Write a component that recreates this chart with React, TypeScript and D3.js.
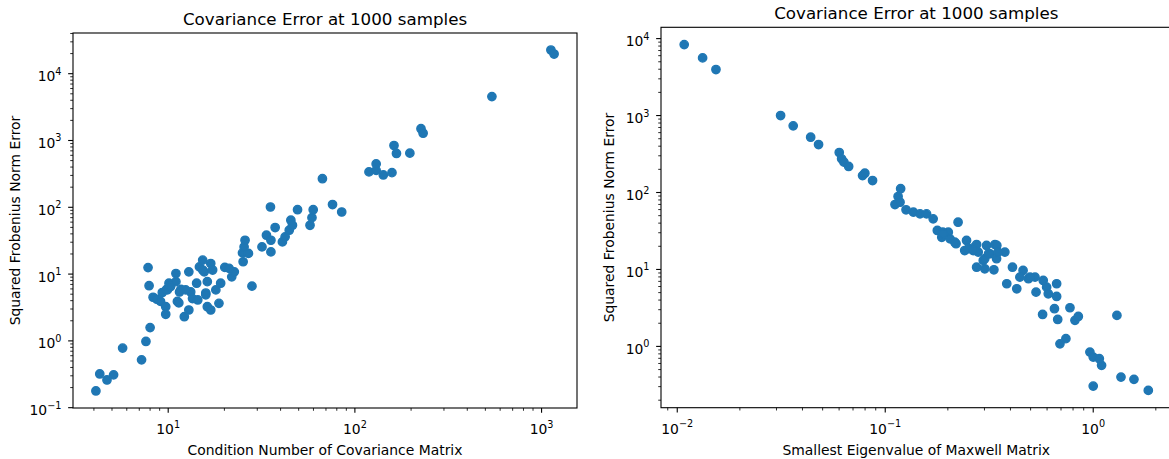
import React from 'react';
import * as d3 from 'd3';

// Left panel: condition number vs squared Frobenius error
const condNumber = [4.1, 4.3, 4.7, 5.1, 5.7, 7.2, 7.6, 8.0, 7.8, 7.9, 8.3, 8.7, 9.1, 9.3, 9.8, 10.1, 11.0, 11.0, 11.2, 9.7, 9.7, 12.2, 12.9, 11.7, 12.9, 13.2, 13.5, 14.2, 14.4, 14.7, 15.3, 15.6, 16.2, 16.9, 17.3, 15.9, 16.2, 16.9, 18.0, 18.7, 19.1, 20.1, 21.9, 22.6, 25.0, 25.2, 25.5, 25.8, 26.9, 28.1, 31.8, 33.6, 35.5, 35.5, 35.3, 37.4, 40.9, 42.3, 44.5, 45.4, 46.3, 49.3, 57.5, 58.9, 59.8, 67, 75.9, 85, 119, 130, 130, 142, 158, 162, 167, 197, 226, 232, 542, 1122, 1167, 21.2, 12.4, 11.5, 9.9, 10.3, 11.4, 15.3, 15.9];
const leftError = [0.178, 0.32, 0.26, 0.31, 0.78, 0.52, 0.98, 1.58, 12.5, 6.7, 4.5, 4.2, 3.9, 5.3, 5.9, 7.3, 10.2, 7.7, 3.9, 3.25, 2.5, 2.3, 2.9, 5.9, 10.8, 5.4, 4.3, 7.3, 4.1, 12.8, 16.2, 10.8, 7.7, 14.4, 11.5, 5.2, 3.25, 2.9, 5.8, 3.65, 7.3, 12.6, 9.1, 10.8, 20.8, 15.3, 25.5, 32.1, 20.4, 6.6, 25.5, 38.2, 21.5, 32.1, 101, 49.8, 30.3, 36.1, 45.4, 64, 53.8, 92, 53.8, 70, 92, 268, 110, 85, 339, 446, 357, 305, 330, 841, 640, 646, 1500, 1285, 4540, 22600, 19700, 12.2, 5.8, 5.4, 5.8, 6.5, 3.7, 11.5, 4.9];

// Right panel: smallest eigenvalue vs squared Frobenius error
const smallestEig = [0.0108, 0.01324, 0.01535, 0.0314, 0.0361, 0.0438, 0.0478, 0.0601, 0.0617, 0.0633, 0.0667, 0.0778, 0.0798, 0.0869,
  0.1186, 0.1153, 0.1114, 0.1178, 0.1259, 0.1366, 0.147, 0.158, 0.170, 0.224, 0.178, 0.189, 0.201, 0.187, 0.205, 0.219, 0.246, 0.241, 0.265, 0.280, 0.307, 0.337, 0.319, 0.376, 0.296, 0.275, 0.301, 0.333, 0.409, 0.384, 0.429,
  0.216, 0.251, 0.275, 0.344, 0.301, 0.460, 0.444, 0.488, 0.525, 0.531, 0.575, 0.597, 0.608, 0.667, 0.667, 0.571, 0.651, 0.675, 0.773, 0.817, 0.848, 0.692, 0.739, 1.30, 0.964, 1.0, 1.07, 1.097, 1.0, 1.36, 1.57, 1.84,
  0.343, 0.349, 0.265, 0.190, 0.314, 0.497];
const rightError = [8360, 5610, 3960, 1000, 735, 523, 420, 331, 274, 248, 218, 166, 178, 143,
  112, 88.7, 69.8, 74.8, 59.6, 55.5, 52.8, 52.8, 45.5, 41.1, 32.1, 30.5, 30.5, 26.2, 25.0, 21.6, 23.8, 17.6, 19.1, 16.8, 20.5, 21.1, 16.0, 16.8, 13.1, 10.7, 10.2, 9.9, 10.7, 6.52, 5.61,
  22.6, 18.6, 21.1, 20.5, 13.8, 9.7, 7.94, 7.57, 7.94, 5.07, 7.19, 5.89, 4.83, 6.52, 4.46, 2.60, 3.09, 2.24, 3.18, 2.18, 2.45, 1.08, 1.26, 2.53, 0.843, 0.726, 0.692, 0.567, 0.305, 0.399, 0.373, 0.268,
  13.8, 16.8, 17.6, 29.1, 16.0, 7.94];

const titleText = 'Covariance Error at 1000 samples';
const yLabelText = 'Squared Frobenius Norm Error';
const leftXLabel = 'Condition Number of Covariance Matrix';
const rightXLabel = 'Smallest Eigenvalue of Maxwell Matrix';

const FONT = '"DejaVu Sans", sans-serif';
const BLUE = '#1f77b4';

type Box = { l: number; r: number; t: number; b: number };

function padDomain(v: number[]): [number, number] {
  const l = v.map(Math.log10);
  const lo = d3.min(l)!;
  const hi = d3.max(l)!;
  const p = (hi - lo) * 0.05;
  return [Math.pow(10, lo - p), Math.pow(10, hi + p)];
}

function logTicks(dom: [number, number]) {
  const a = Math.log10(dom[0]);
  const b = Math.log10(dom[1]);
  const major: number[] = [];
  const minor: number[] = [];
  for (let e = Math.floor(a); e <= Math.ceil(b); e++) {
    const base = Math.pow(10, e);
    if (e >= a - 1e-9 && e <= b + 1e-9) major.push(e);
    for (let k = 2; k <= 9; k++) {
      const v = k * base;
      const lv = Math.log10(v);
      if (lv >= a && lv <= b) minor.push(v);
    }
  }
  return { major, minor };
}

function expStr(e: number) {
  return e < 0 ? '\u2212' + Math.abs(e) : String(e);
}

function Panel(props: {
  xs: number[]; ys: number[]; box: Box; title: string; titleY: number;
  xLabel: string; yLabel: string; yLabelX: number;
}) {
  const { xs, ys, box, title, titleY, xLabel, yLabel, yLabelX } = props;
  const xDom = padDomain(xs);
  const yDom = padDomain(ys);
  const x = d3.scaleLog().domain(xDom).range([box.l, box.r]);
  const y = d3.scaleLog().domain(yDom).range([box.b, box.t]);
  const xt = logTicks(xDom);
  const yt = logTicks(yDom);
  const majLen = 4.86;
  const minLen = 2.78;
  const cx = (box.l + box.r) / 2;
  const cy = (box.t + box.b) / 2;
  return (
    <g fontFamily={FONT} fill="#000">
      {xs.map((v, i) => (
        <circle key={i} cx={x(v)} cy={y(ys[i])} r={4.17} fill={BLUE} stroke={BLUE} strokeWidth={1.39} />
      ))}
      <rect x={box.l} y={box.t} width={box.r - box.l} height={box.b - box.t} fill="none" stroke="#000" strokeWidth={1.1} />
      {xt.minor.map((v) => (
        <line key={'xm' + v} x1={x(v)} x2={x(v)} y1={box.b} y2={box.b + minLen} stroke="#000" strokeWidth={0.83} />
      ))}
      {yt.minor.map((v) => (
        <line key={'ym' + v} y1={y(v)} y2={y(v)} x1={box.l} x2={box.l - minLen} stroke="#000" strokeWidth={0.83} />
      ))}
      {xt.major.map((e) => {
        const px = x(Math.pow(10, e));
        return (
          <g key={'xM' + e}>
            <line x1={px} x2={px} y1={box.b} y2={box.b + majLen} stroke="#000" strokeWidth={1.1} />
            <text x={px} y={box.b + 26} textAnchor="middle" fontSize={13.9}>
              10<tspan dy={-6.5} fontSize={9.7}>{expStr(e)}</tspan>
            </text>
          </g>
        );
      })}
      {yt.major.map((e) => {
        const py = y(Math.pow(10, e));
        return (
          <g key={'yM' + e}>
            <line y1={py} y2={py} x1={box.l} x2={box.l - majLen} stroke="#000" strokeWidth={1.1} />
            <text x={box.l - 11.5} y={py + 7.5} textAnchor="end" fontSize={13.9}>
              10<tspan dy={-6.5} fontSize={9.7}>{expStr(e)}</tspan>
            </text>
          </g>
        );
      })}
      <text x={cx} y={titleY} textAnchor="middle" fontSize={16.7}>{title}</text>
      <text x={cx} y={455} textAnchor="middle" fontSize={13.9}>{xLabel}</text>
      <text transform={`translate(${yLabelX},${cy}) rotate(-90)`} textAnchor="middle" fontSize={13.9}>{yLabel}</text>
    </g>
  );
}

export default function App() {
  return (
    <svg width={1169} height={459} style={{ position: 'absolute', left: 0, top: 0, background: '#fff' }}>
      <rect x={0} y={0} width={1169} height={459} fill="#fff" />
      <Panel xs={condNumber} ys={leftError} box={{ l: 73, r: 577, t: 33, b: 408 }} title={titleText} titleY={24.7}
        xLabel={leftXLabel} yLabel={yLabelText} yLabelX={20} />
      <Panel xs={smallestEig} ys={rightError} box={{ l: 661, r: 1171.5, t: 27.3, b: 407.7 }} title={titleText} titleY={19}
        xLabel={rightXLabel} yLabel={yLabelText} yLabelX={613.5} />
    </svg>
  );
}
